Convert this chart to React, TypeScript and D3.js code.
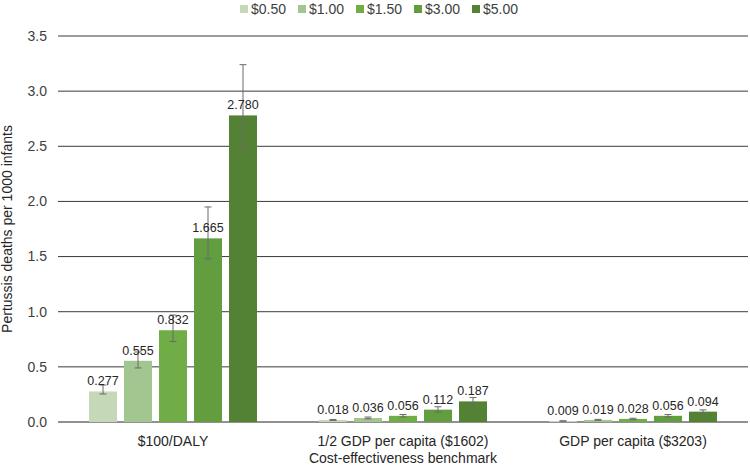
import React from "react";
import * as d3 from "d3";

const categories = ["$100/DALY", "1/2 GDP per capita ($1602)", "GDP per capita ($3203)"];
const seriesNames = ["$0.50", "$1.00", "$1.50", "$3.00", "$5.00"];
const seriesColors = ["#c5d9b8", "#a2c68f", "#70ad47", "#629d3f", "#548235"];
// values[series][category]
const values = [
  [0.277, 0.018, 0.009],
  [0.555, 0.036, 0.019],
  [0.832, 0.056, 0.028],
  [1.665, 0.112, 0.056],
  [2.78, 0.187, 0.094],
];
const errLow = [
  [0.254, 0.014, 0.007],
  [0.49, 0.028, 0.015],
  [0.73, 0.045, 0.022],
  [1.48, 0.09, 0.045],
  [2.47, 0.155, 0.08],
];
const errHigh = [
  [0.335, 0.023, 0.011],
  [0.635, 0.045, 0.024],
  [0.97, 0.068, 0.034],
  [1.95, 0.138, 0.068],
  [3.24, 0.222, 0.11],
];
const yTicks = [0, 0.5, 1.0, 1.5, 2.0, 2.5, 3.0, 3.5];

export default function App() {
  const W = 750, H = 467;
  const left = 58, right = 748, top = 36, bottom = 422;
  const x = d3.scaleBand<string>().domain(categories).range([left, right]);
  const y = d3.scaleLinear().domain([0, 3.5]).range([bottom, top]);
  const groupW = 168;
  const inner = d3.scaleBand<string>().domain(seriesNames).range([0, groupW]).paddingInner(0.2);
  const groupOffset = (x.bandwidth() - groupW) / 2;
  const font = "Liberation Sans, Arial, sans-serif";
  const legendX = d3.scalePoint<string>().domain(seriesNames).range([240, 472]);

  return (
    <svg width={W} height={H} style={{ position: "absolute", left: 0, top: 0, fontFamily: font }}>
      <rect width={W} height={H} fill="#fff" />
      {yTicks.map((t) => (
        <g key={t}>
          <line x1={left} x2={right} y1={y(t)} y2={y(t)} stroke={t === 0 ? "#222" : "#3a3a3a"} strokeWidth={1} />
          <text x={47} y={y(t)} dy="0.35em" textAnchor="end" fontSize={14} fill="#404040">
            {t.toFixed(1)}
          </text>
        </g>
      ))}
      {seriesNames.map((s, si) =>
        categories.map((c, ci) => {
          const bx = (x(c) as number) + groupOffset + (inner(s) as number);
          const bw = inner.bandwidth();
          const v = values[si][ci];
          const cx = bx + bw / 2;
          return (
            <g key={s + c}>
              <rect x={bx} y={y(v)} width={bw} height={y(0) - y(v)} fill={seriesColors[si]} />
              <line x1={cx} x2={cx} y1={y(errLow[si][ci])} y2={y(errHigh[si][ci])} stroke="#6a6a6a" strokeWidth={1} />
              <line x1={cx - 3.5} x2={cx + 3.5} y1={y(errLow[si][ci])} y2={y(errLow[si][ci])} stroke="#6a6a6a" strokeWidth={1} />
              <line x1={cx - 3.5} x2={cx + 3.5} y1={y(errHigh[si][ci])} y2={y(errHigh[si][ci])} stroke="#6a6a6a" strokeWidth={1} />
              <text x={cx} y={y(v) - 6} textAnchor="middle" fontSize={12.5} fill="#262626">
                {v.toFixed(3)}
              </text>
            </g>
          );
        })
      )}
      {categories.map((c) => (
        <text key={c} x={(x(c) as number) + x.bandwidth() / 2} y={446} textAnchor="middle" fontSize={14} fill="#262626">
          {c}
        </text>
      ))}
      <text x={403} y={463} textAnchor="middle" fontSize={14} fill="#262626">
        Cost-effectiveness benchmark
      </text>
      <text transform={`translate(12, ${(top + bottom) / 2}) rotate(-90)`} textAnchor="middle" fontSize={14} fill="#262626">
        Pertussis deaths per 1000 infants
      </text>
      {seriesNames.map((s, i) => (
        <g key={s} transform={`translate(${legendX(s)}, 9)`}>
          <rect x={0} y={-4} width={8} height={8} fill={seriesColors[i]} />
          <text x={11} y={0} dy="0.35em" fontSize={14} fill="#404040">
            {s}
          </text>
        </g>
      ))}
    </svg>
  );
}
